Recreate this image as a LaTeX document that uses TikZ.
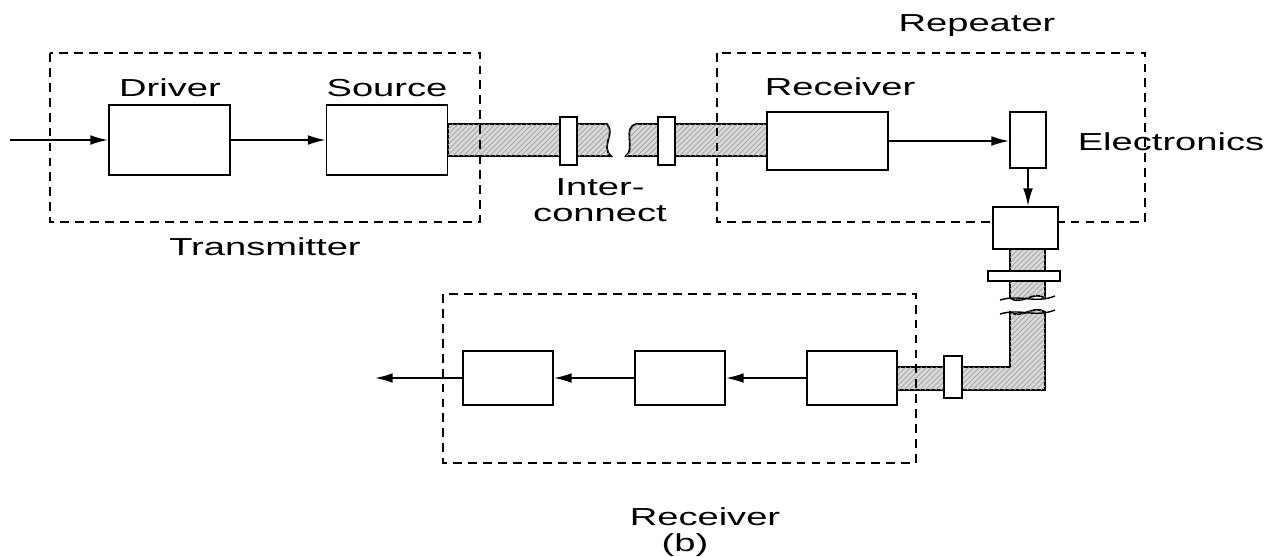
\documentclass[tikz,border=0pt]{standalone}
\usepackage{fontspec}
\setmainfont{Liberation Sans}[FakeStretch=1.55]
\usetikzlibrary{arrows.meta, patterns}

\begin{document}
\begin{tikzpicture}[x=0.02cm, y=-0.02cm,
    font=\fontsize{14}{15}\selectfont,
    >={Latex[length=10pt, width=5.5pt]},
    box/.style={draw, line width=1.1pt, fill=white, inner sep=0pt},
    grp/.style={line width=1.1pt, dash pattern=on 5pt off 3.5pt},
    cable/.style={draw, line width=1pt, fill=gray!30, postaction={pattern=north east lines, pattern color=gray!75}},
    plug/.style={draw, line width=1pt, fill=white},
    flow/.style={->, line width=0.9pt}]
    \useasboundingbox (0,0) rectangle (1285,556);

    % interconnect cables
    \draw[cable] (448,124) -- (607,124) .. controls (616,134) and (600,146) .. (611,156) -- (448,156) -- cycle;
    \draw[cable] (636,124) .. controls (622,128) and (636,148) .. (626,156) -- (767,156) -- (767,124) -- cycle;
    \draw[cable] (1010,249) -- (1045,249) -- (1045,298) .. controls (1033,290) and (1022,306) .. (1010,298) -- cycle;
    \draw[cable] (1010,312) .. controls (1022,320) and (1033,304) .. (1045,312) -- (1045,390) -- (897,390) -- (897,367) -- (1010,367) -- cycle;
    \draw[line width=0.8pt] (1000,300) .. controls (1020,294) and (1035,304) .. (1055,296);
    \draw[line width=0.8pt] (1000,314) .. controls (1020,308) and (1035,318) .. (1055,310);

    % dashed groups
    \draw[grp] (50,53) rectangle (480,222);
    \draw[grp] (717,53) rectangle (1145,222);
    \draw[grp] (443,294) rectangle (916,463);

    % transmitter
    \node[box, minimum width=2.42cm, minimum height=1.4cm] (driver) at (169.5,140) {};
    \node[box, minimum width=2.42cm, minimum height=1.4cm] (source) at (387,140) {};
    \node (tDriver) at (170,88) {Driver};
    \node (tSource) at (387,88) {Source};
    \node (tTx) at (265,247) {Transmitter};

    % repeater
    \node[box, minimum width=2.42cm, minimum height=1.16cm] (rrx) at (827.5,141) {};
    \node[box, minimum width=0.72cm, minimum height=1.12cm] (elec) at (1028,140) {};
    \node[box, minimum width=1.3cm, minimum height=0.84cm] (rtx) at (1025.5,228) {};
    \node (tRep) at (977,26) {Repeater};
    \node (tRrx) at (840,87) {Receiver};
    \node (tElec) at (1171,142) {Electronics};

    % receiver
    \node[box, minimum width=1.8cm, minimum height=1.08cm] (rx1) at (508,378) {};
    \node[box, minimum width=1.8cm, minimum height=1.08cm] (rx2) at (680,378) {};
    \node[box, minimum width=1.8cm, minimum height=1.08cm] (rx3) at (852,378) {};
    \node (tRx) at (705,517) {Receiver};

    % connectors
    \draw[plug] (560,117) rectangle (577,165);
    \draw[plug] (658,117) rectangle (675,165);
    \draw[plug] (988,271) rectangle (1060,281);
    \draw[plug] (944,356) rectangle (962,398);
    \node[align=center] (tIc) at (600,200) {Inter-\\connect};

    % signal flow
    \coordinate (in) at (10,140);
    \coordinate (out) at (375,378);
    \draw[flow] (in) -- (driver);
    \draw[flow] (driver) -- (source);
    \draw[flow] (rrx.east) -- (rrx.east -| elec.west);
    \draw[flow] (elec.south) -- (elec.south |- rtx.north);
    \draw[flow] (rx3) -- (rx2);
    \draw[flow] (rx2) -- (rx1);
    \draw[flow] (rx1) -- (out);

    \node (tB) at (685,545) {(b)};
\end{tikzpicture}
\end{document}
